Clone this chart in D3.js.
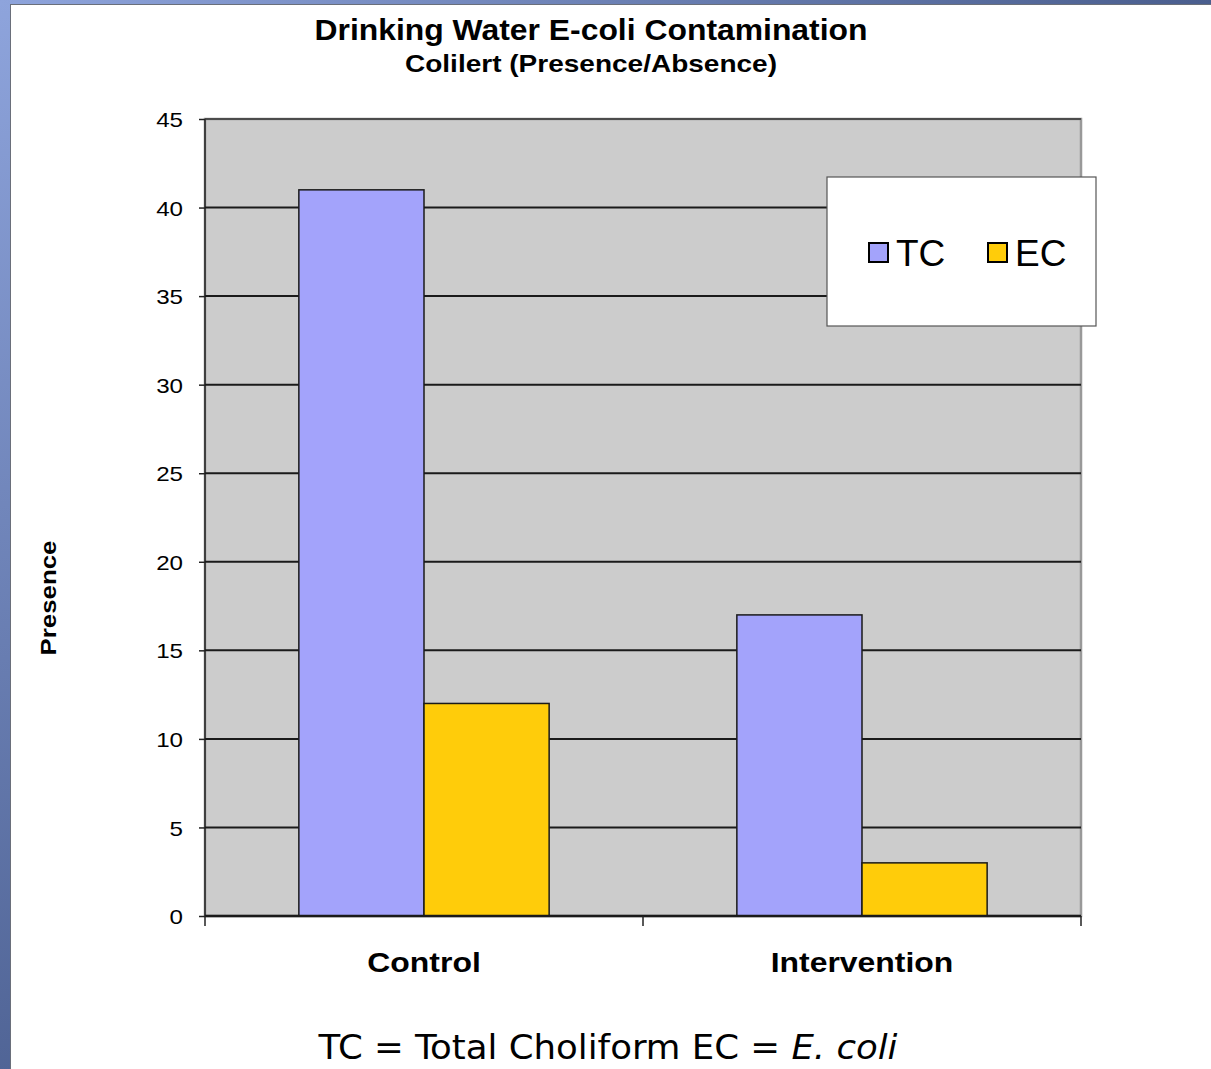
<!DOCTYPE html>
<html><head><meta charset="utf-8">
<script src="https://cdn.jsdelivr.net/npm/d3@7"></script>
<style>html,body{margin:0;padding:0;background:#fff;overflow:hidden}</style>
</head><body>
<svg id="c" width="1211" height="1069"></svg>
<script>
const categories = ["Control", "Intervention"];
const seriesNames = ["TC", "EC"];
const tcValues = [41, 17];
const ecValues = [12, 3];
const yTicks = [0, 5, 10, 15, 20, 25, 30, 35, 40, 45];

(function(){
const colors = {TC: "#a3a3fb", EC: "#ffcc0a"};
const svg = d3.select("#c");
const W = 1211, H = 1069;
const FF = "Liberation Sans, Arial, sans-serif";

function stretch(sel, k){
  sel.each(function(){
    const L = this.getComputedTextLength();
    d3.select(this).attr("textLength", L*k).attr("lengthAdjust","spacingAndGlyphs");
  });
}

// slide background
const defs = svg.append("defs");
const g1 = defs.append("linearGradient").attr("id","bg").attr("x1",0).attr("y1",0).attr("x2",0.3).attr("y2",1);
g1.append("stop").attr("offset","0%").attr("stop-color","#8ea4dc");
g1.append("stop").attr("offset","100%").attr("stop-color","#4b5f90");
const g2 = defs.append("linearGradient").attr("id","bgtop").attr("x1",0).attr("y1",0).attr("x2",1).attr("y2",0);
g2.append("stop").attr("offset","0%").attr("stop-color","#8ea4dc");
g2.append("stop").attr("offset","100%").attr("stop-color","#4a5e8e");
svg.append("rect").attr("width",W).attr("height",H).attr("fill","url(#bg)");
svg.append("rect").attr("width",W).attr("height",5).attr("fill","url(#bgtop)");
svg.append("rect").attr("x",10).attr("y",4).attr("width",W-10).attr("height",H-4).attr("fill","#6a6f7a");
svg.append("rect").attr("x",11).attr("y",5).attr("width",W-11).attr("height",H-5).attr("fill","#ffffff");

const pL = 205, pR = 1081, pT = 119, pB = 916;
const x0 = d3.scaleBand().domain(categories).range([pL, pR]).paddingInner(0).paddingOuter(0);
const bw = x0.bandwidth()/3.5;
const x1 = d3.scaleBand().domain(seriesNames).range([0, bw*2]);
const y = d3.scaleLinear().domain([0, 45]).range([pB, pT]);

// plot area
svg.append("rect").attr("x",pL).attr("y",pT).attr("width",pR-pL).attr("height",pB-pT)
  .attr("fill","#cccccc").attr("stroke","#999").attr("stroke-width",2.5);
svg.append("line").attr("x1",pL).attr("x2",pL).attr("y1",pT).attr("y2",pB).attr("stroke","#222").attr("stroke-width",1.5);
svg.append("line").attr("x1",pL).attr("x2",pR).attr("y1",pT).attr("y2",pT).attr("stroke","#333").attr("stroke-width",1.5);

// gridlines
svg.append("g").selectAll("line").data(yTicks.filter(d=>d>0 && d<45)).join("line")
  .attr("x1",pL).attr("x2",pR).attr("y1",d=>y(d)).attr("y2",d=>y(d))
  .attr("stroke","#1a1a1a").attr("stroke-width",2);

// y axis
const yAxis = d3.axisLeft(y).tickValues(yTicks).tickSize(6).tickPadding(16);
const ya = svg.append("g").attr("transform",`translate(${pL},0)`).call(yAxis);
ya.select(".domain").remove();
ya.selectAll(".tick line").attr("stroke","#222").attr("stroke-width",1.5);
ya.selectAll(".tick text").attr("font-family",FF).attr("font-size",21).attr("fill","#000").attr("dy","0.36em");
stretch(ya.selectAll(".tick text"), 1.15);

// bars
const data = categories.map((c,i)=>({cat:c, TC:tcValues[i], EC:ecValues[i]}));
const grp = svg.append("g").selectAll("g").data(data).join("g")
  .attr("transform",d=>`translate(${x0(d.cat)+x0.bandwidth()/2-bw},0)`);
grp.selectAll("rect").data(d=>seriesNames.map(s=>({s, v:d[s]}))).join("rect")
  .attr("x",d=>x1(d.s)).attr("y",d=>y(d.v)).attr("width",x1.bandwidth()).attr("height",d=>pB-y(d.v))
  .attr("fill",d=>colors[d.s]).attr("stroke","#1a1a1a").attr("stroke-width",1.5);

// x axis
svg.append("line").attr("x1",pL).attr("x2",pR).attr("y1",pB).attr("y2",pB).attr("stroke","#1a1a1a").attr("stroke-width",2.5);
const xa = svg.append("g").attr("transform",`translate(0,${pB})`)
  .call(d3.axisBottom(x0).tickSize(0).tickPadding(0));
xa.select(".domain").remove();
xa.selectAll(".tick line").remove();
xa.selectAll(".tick text").attr("y",56).attr("dy",0).attr("font-family",FF)
  .attr("font-weight","bold").attr("font-size",28).attr("fill","#000");
stretch(xa.selectAll(".tick text"), 1.14);
svg.append("g").selectAll("line").data([pL, x0(categories[1]), pR]).join("line")
  .attr("x1",d=>d).attr("x2",d=>d).attr("y1",pB).attr("y2",pB+10).attr("stroke","#222").attr("stroke-width",1.5);

// titles
svg.append("text").attr("x",591).attr("y",40).attr("text-anchor","middle")
  .attr("font-family",FF).attr("font-weight","bold").attr("font-size",29)
  .attr("textLength",553).attr("lengthAdjust","spacingAndGlyphs")
  .text("Drinking Water E-coli Contamination");
svg.append("text").attr("x",591).attr("y",72).attr("text-anchor","middle")
  .attr("font-family",FF).attr("font-weight","bold").attr("font-size",24)
  .attr("textLength",372).attr("lengthAdjust","spacingAndGlyphs")
  .text("Colilert (Presence/Absence)");
svg.append("text").attr("transform","translate(56,598) rotate(-90)").attr("text-anchor","middle")
  .attr("font-family",FF).attr("font-weight","bold").attr("font-size",22)
  .attr("textLength",115).attr("lengthAdjust","spacingAndGlyphs")
  .text("Presence");

// legend
const lg = svg.append("g");
lg.append("rect").attr("x",827).attr("y",177).attr("width",269).attr("height",149).attr("fill","#fff").attr("stroke","#555").attr("stroke-width",1.2);
const items = lg.selectAll("g").data(seriesNames).join("g").attr("transform",(d,i)=>`translate(${869+i*119},0)`);
items.append("rect").attr("x",0).attr("y",243).attr("width",19).attr("height",19).attr("fill",d=>colors[d]).attr("stroke","#000").attr("stroke-width",2);
items.append("text").attr("x",27).attr("y",266).attr("font-family",FF).attr("font-size",37).text(d=>d);

// footnote
const ft = svg.append("text").attr("x",608).attr("y",1059).attr("text-anchor","middle")
  .attr("font-family","DejaVu Sans Condensed, Liberation Sans, sans-serif").attr("font-size",33).attr("fill","#000")
  .attr("textLength",579).attr("lengthAdjust","spacingAndGlyphs");
ft.append("tspan").text("TC = Total Choliform EC = ");
ft.append("tspan").attr("font-style","italic").text("E. coli");
})();
</script>
</body></html>
